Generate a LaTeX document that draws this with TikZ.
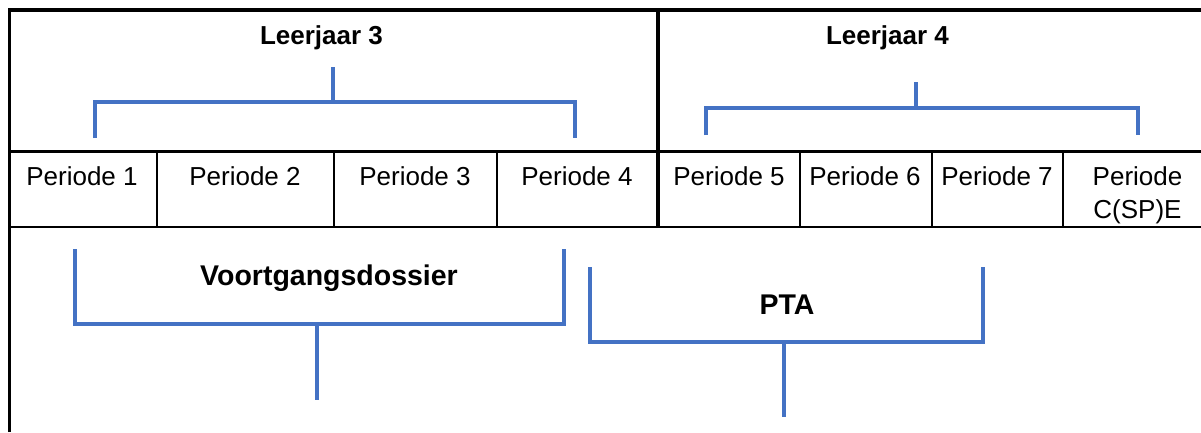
\documentclass[tikz,border=0pt]{standalone}
\usepackage{fontspec}
\setmainfont{Liberation Sans}
\definecolor{bracketblue}{HTML}{4472C4}
\begin{document}
\begin{tikzpicture}[x=1pt,y=-1pt,
  frame/.style={line width=3.3pt, black},
  cellline/.style={line width=2.2pt, black},
  bracketline/.style={line width=4pt, bracketblue},
  per/.style={font=\fontsize{26}{33}\selectfont, anchor=base, inner sep=0pt},
  yearlabel/.style={font=\fontsize{26}{31}\selectfont\bfseries, anchor=base, inner sep=0pt},
  grouplabel/.style={font=\fontsize{28.5}{34}\selectfont\bfseries, anchor=base, inner sep=0pt}]
\useasboundingbox (0,0) rectangle (1201,432);
\fill[white] (0,0) rectangle (1201,432);

% frame and table
\coordinate (fbl) at (9.5,432);
\coordinate (ftl) at (9.5,10);
\coordinate (ftr) at (1201,10);
\draw[frame] (fbl) -- (ftl) -- (ftr);
\coordinate (r1l) at (8,151.5);
\coordinate (r1r) at (1201,151.5);
\draw[frame] (r1l) -- (r1r);
\coordinate (r2l) at (8,227);
\coordinate (r2r) at (1201,227);
\draw[line width=2.6pt] (r2l) -- (r2r);
\coordinate (dvt) at (658,10);
\coordinate (dvb) at (658,227);
\draw[frame] (dvt) -- (dvb);
\foreach \cx in {157,334,497,800,932,1063}{
  \draw[cellline] (\cx,151.5) -- (\cx,227);
}

% year labels
\node[yearlabel] (y3) at (321.5,44) {Leerjaar 3};
\node[yearlabel] (y4) at (887.5,44) {Leerjaar 4};

% period labels
\node[per] (p1) at (82,185) {Periode 1};
\node[per] (p2) at (245,185) {Periode 2};
\node[per] (p3) at (415,185) {Periode 3};
\node[per] (p4) at (577,185) {Periode 4};
\node[per] (p5) at (729,185) {Periode 5};
\node[per] (p6) at (865,185) {Periode 6};
\node[per] (p7) at (997,185) {Periode 7};
\node[per, anchor=north, align=center] (p8) at (1137.5,166) {Periode\\C(SP)E};

% group labels
\node[grouplabel] (vd) at (329,285.5) {Voortgangsdossier};
\node[grouplabel] (pta) at (787,314) {PTA};

% bracket Leerjaar 3
\coordinate (a1) at (95,138);
\coordinate (a2) at (575,138);
\coordinate (ah) at (333,102);
\coordinate (at) at (333,67);
\draw[bracketline] (a1) |- (ah) -| (a2);
\draw[bracketline] (at) -- (ah);

% bracket Leerjaar 4
\coordinate (b1) at (706,135);
\coordinate (b2) at (1138,135);
\coordinate (bh) at (916,108);
\coordinate (bt) at (916,82);
\draw[bracketline] (b1) |- (bh) -| (b2);
\draw[bracketline] (bt) -- (bh);

% bracket Voortgangsdossier
\coordinate (c1) at (75,249);
\coordinate (c2) at (564,249);
\coordinate (ch) at (316.5,324);
\coordinate (cb) at (316.5,400);
\draw[bracketline] (c1) |- (ch) -| (c2);
\draw[bracketline] (ch) -- (cb);

% bracket PTA
\coordinate (d1) at (590,267);
\coordinate (d2) at (983,267);
\coordinate (dh) at (784,342);
\coordinate (db) at (784,417);
\draw[bracketline] (d1) |- (dh) -| (d2);
\draw[bracketline] (dh) -- (db);
\end{tikzpicture}
\end{document}
